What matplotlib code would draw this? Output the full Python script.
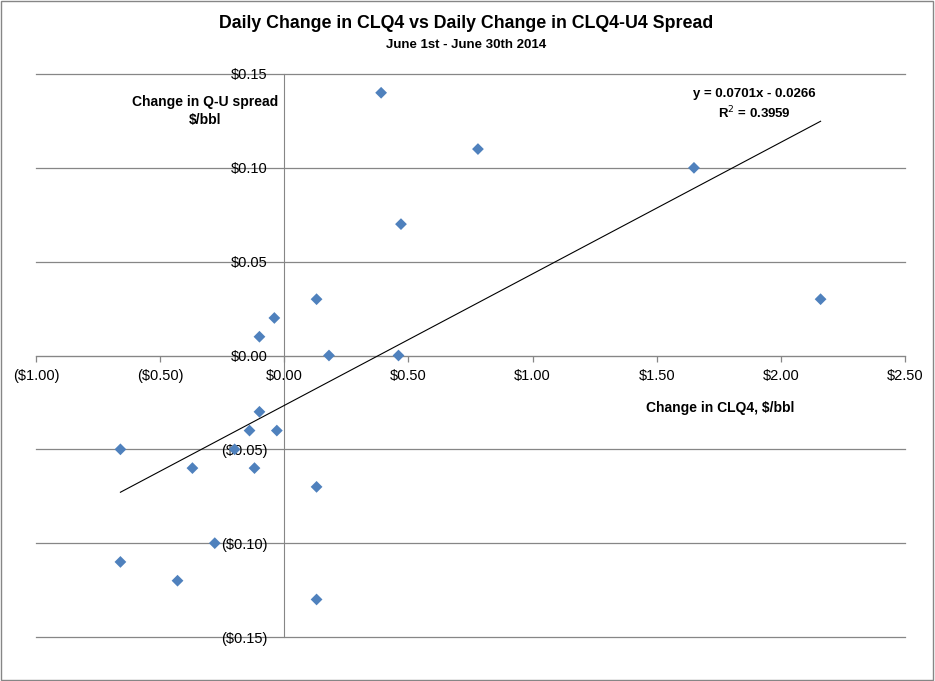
import numpy as np
import matplotlib.pyplot as plt
from matplotlib.patches import Rectangle

# daily changes, June 2014
clq4_change = [0.39, 0.78, 1.65, 0.47, 0.13, 2.16, -0.04, -0.10, 0.18, 0.46, -0.10,
               -0.14, -0.03, -0.66, -0.20, -0.37, -0.12, 0.13, -0.28, -0.66, -0.43, 0.13]
spread_change = [0.14, 0.11, 0.10, 0.07, 0.03, 0.03, 0.02, 0.01, 0.00, 0.00, -0.03,
                 -0.04, -0.04, -0.05, -0.05, -0.06, -0.06, -0.07, -0.10, -0.11, -0.12, -0.13]

# trendline from the chart label
slope = 0.0701
intercept = -0.0266
r_squared = 0.3959

x_ticks = [-1.0, -0.5, 0.0, 0.5, 1.0, 1.5, 2.0, 2.5]
y_ticks = [-0.15, -0.10, -0.05, 0.0, 0.05, 0.10, 0.15]

GRID = '#868686'
BLUE = '#4F81BD'
plt.rcParams['font.family'] = ['Liberation Sans', 'DejaVu Sans']


def money(v, digits=2):
    s = '$%.*f' % (digits, abs(v))
    return '(%s)' % s if v < -1e-9 else s


fig = plt.figure(figsize=(9.35, 6.81), dpi=100)
fig.patches.append(Rectangle((0.001, 0.001), 0.997, 0.997, transform=fig.transFigure,
                             fill=False, edgecolor=GRID, linewidth=1.0))
ax = fig.add_axes([36 / 935, 1 - 637 / 681, 869 / 935, 563 / 681])

ax.set_xlim(x_ticks[0], x_ticks[-1])
ax.set_ylim(y_ticks[0], y_ticks[-1])

# horizontal gridlines (Excel style, under the markers)
for yv in y_ticks:
    ax.axhline(yv, color=GRID, linewidth=0.9, zorder=1, clip_on=False)

ax.scatter(clq4_change, spread_change, marker='D', s=36, color=BLUE,
           edgecolors='none', zorder=3)

xs = np.array([min(clq4_change), max(clq4_change)])
ax.plot(xs, slope * xs + intercept, color='black', linewidth=0.8, zorder=3)

for side in ['top', 'right']:
    ax.spines[side].set_visible(False)
for side in ['left', 'bottom']:
    ax.spines[side].set_position(('data', 0))
    ax.spines[side].set_color(GRID)
    ax.spines[side].set_zorder(1)

ax.set_xticks(x_ticks)
ax.set_xticklabels([money(v) for v in x_ticks])
ax.set_yticks(y_ticks)
ax.set_yticklabels([money(v) for v in y_ticks])
ax.tick_params(axis='x', direction='out', length=4.5, width=0.9, color=GRID,
               pad=5, labelsize=10.5)
ax.tick_params(axis='y', length=0, pad=12, labelsize=10.5)
for lab in ax.get_xticklabels() + ax.get_yticklabels():
    lab.set_zorder(5)

fig.text(205 / 935, 1 - 111 / 681, 'Change in Q-U spread\n$/bbl',
         fontsize=10, fontweight='bold', ha='center', va='center', linespacing=1.35)

fig.text(720 / 935, 1 - 408 / 681, 'Change in CLQ4, $/bbl',
         fontsize=10, fontweight='bold', ha='center', va='center')

fig.text(754 / 935, 1 - 104.5 / 681,
         'y = %.4fx - %.4f\nR$^2$ = %.4f' % (slope, abs(intercept), r_squared),
         fontsize=9.5, fontweight='bold', ha='center', va='center', linespacing=1.3)

fig.text(0.498, 1 - 23 / 681, 'Daily Change in CLQ4 vs Daily Change in CLQ4-U4 Spread',
         fontsize=12.8, fontweight='bold', ha='center', va='center')
fig.text(0.498, 1 - 45 / 681, 'June 1st - June 30th 2014',
         fontsize=9.5, fontweight='bold', ha='center', va='center')

fig.savefig('out.png', dpi=100)
